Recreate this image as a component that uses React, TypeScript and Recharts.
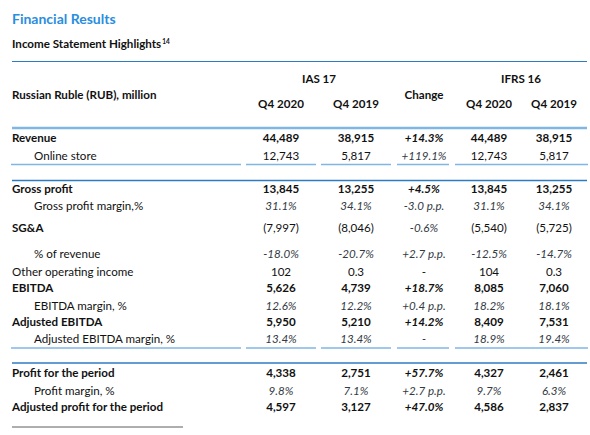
import React from 'react';
import { ComposedChart, XAxis, YAxis, Scatter, ReferenceLine } from 'recharts';

// ---- Data ----
const rowLabels = [
  'Revenue', 'Online store', 'Gross profit', 'Gross profit margin,%', 'SG&A', '% of revenue',
  'Other operating income', 'EBITDA', 'EBITDA margin, %', 'Adjusted EBITDA',
  'Adjusted EBITDA margin, %', 'Profit for the period', 'Profit margin, %', 'Adjusted profit for the period',
];
const ias2020 = ['44,489', '12,743', '13,845', '31.1%', '(7,997)', '-18.0%', '102', '5,626', '12.6%', '5,950', '13.4%', '4,338', '9.8%', '4,597'];
const ias2019 = ['38,915', '5,817', '13,255', '34.1%', '(8,046)', '-20.7%', '0.3', '4,739', '12.2%', '5,210', '13.4%', '2,751', '7.1%', '3,127'];
const changeCol = ['+14.3%', '+119.1%', '+4.5%', '-3.0 p.p.', '-0.6%', '+2.7 p.p.', '-', '+18.7%', '+0.4 p.p.', '+14.2%', '-', '+57.7%', '+2.7 p.p.', '+47.0%'];
const ifrs2020 = ['44,489', '12,743', '13,845', '31.1%', '(5,540)', '-12.5%', '104', '8,085', '18.2%', '8,409', '18.9%', '4,327', '9.7%', '4,586'];
const ifrs2019 = ['38,915', '5,817', '13,255', '34.1%', '(5,725)', '-14.7%', '0.3', '7,060', '18.1%', '7,531', '19.4%', '2,461', '6.3%', '2,837'];
const rowKinds = ['bold', 'sub', 'bold', 'pct', 'boldLabel', 'pct', 'plain', 'bold', 'pct', 'bold', 'pct', 'bold', 'pct', 'bold'];
const columnHeaders = ['Q4 2020', 'Q4 2019', 'Change', 'Q4 2020', 'Q4 2019'];
const groupHeaders = ['IAS 17', 'IFRS 16'];
const unitLabel = 'Russian Ruble (RUB), million';
const titleText = 'Financial Results';
const subtitleText = 'Income Statement Highlights';
const footnoteMark = '14';

// ---- Layout ----
const W = 590;
const H = 435;
const FONT = 'Lato, "Open Sans", sans-serif';
const colX = [281, 356, 424, 489, 554];
const rowY = [138, 156, 189, 206, 228, 254, 272, 288, 306, 322, 339, 373, 391, 407];
const labelX = 12;
const indentX = 34;
const DARK = '#111111';
const GREY = '#333a44';
const BLUE = '#2c7cc2';
const LIGHT = '#7fb6e6';
const FS = 11.6;

type Cell = { x: number; y: number; text: string; weight: number; italic: boolean; anchor: string; color: string; size: number; sup?: string };

const columns = [ias2020, ias2019, changeCol, ifrs2020, ifrs2019];

const cells: Cell[] = [];
rowLabels.forEach((label, r) => {
  const kind = rowKinds[r];
  const indented = kind === 'sub' || kind === 'pct';
  cells.push({
    x: indented ? indentX : labelX,
    y: rowY[r],
    text: label,
    weight: kind === 'bold' || kind === 'boldLabel' ? 700 : 400,
    italic: false,
    anchor: 'start',
    color: DARK,
    size: FS,
  });
  columns.forEach((col, c) => {
    const isChange = c === 2;
    const txt = col[r];
    const bold = kind === 'bold';
    const italic = kind === 'pct' || (isChange && txt !== '-');
    cells.push({
      x: colX[c],
      y: rowY[r],
      text: txt,
      weight: bold ? 700 : 400,
      italic,
      anchor: 'middle',
      color: italic && !bold ? GREY : DARK,
      size: FS,
    });
  });
});

// headers
cells.push({ x: 319, y: 79, text: groupHeaders[0], weight: 700, italic: false, anchor: 'middle', color: DARK, size: FS });
cells.push({ x: 521, y: 79, text: groupHeaders[1], weight: 700, italic: false, anchor: 'middle', color: DARK, size: FS });
cells.push({ x: labelX, y: 95, text: unitLabel, weight: 700, italic: false, anchor: 'start', color: DARK, size: FS });
columnHeaders.forEach((h, c) => {
  cells.push({ x: colX[c], y: c === 2 ? 95 : 104, text: h, weight: 700, italic: false, anchor: 'middle', color: DARK, size: FS });
});
cells.push({ x: labelX, y: 19, text: titleText, weight: 700, italic: false, anchor: 'start', color: '#2a8de0', size: 14 });
cells.push({ x: labelX, y: 44, text: subtitleText, weight: 700, italic: false, anchor: 'start', color: DARK, size: FS, sup: footnoteMark });

const renderCell = (props: any) => {
  const { cx, cy, payload } = props;
  if (cx == null || cy == null || !payload) return <g />;
  const p = payload as Cell;
  return (
    <text
      x={cx}
      y={cy}
      dy="0.36em"
      textAnchor={p.anchor as any}
      fontFamily={FONT}
      fontSize={p.size}
      fontWeight={p.weight}
      fontStyle={p.italic ? 'italic' : 'normal'}
      fill={p.color}
    >
      {p.text}
      {p.sup ? (
        <tspan fontSize={6.5} dy="-0.7em" dx="1">{p.sup}</tspan>
      ) : null}
    </text>
  );
};

type Seg = { x1: number; x2: number; y: number; color: string; width: number };
const rules: Seg[] = [
  { x1: 12, x2: 587, y: 61.5, color: BLUE, width: 1.2 },
  { x1: 12, x2: 587, y: 128, color: LIGHT, width: 2.5 },
  { x1: 12, x2: 587, y: 180.5, color: BLUE, width: 1.6 },
  { x1: 12, x2: 587, y: 363, color: BLUE, width: 1.6 },
  { x1: 12, x2: 183, y: 427, color: '#333333', width: 0.8 },
];
const segSpans = [[11, 241], [246, 316], [321, 391], [397, 449], [455, 588]];
[164.5, 348].forEach((y) => {
  segSpans.forEach(([a, b]) => rules.push({ x1: a, x2: b, y, color: LIGHT, width: 1.6 }));
});

export default function App() {
  return (
    <div style={{ position: 'absolute', left: 0, top: 0, width: W, height: H, background: '#fff' }}>
      <ComposedChart width={W} height={H} margin={{ top: 0, right: 0, bottom: 0, left: 0 }}>
        <XAxis type="number" dataKey="x" domain={[0, W]} hide allowDataOverflow />
        <YAxis type="number" dataKey="y" domain={[0, H]} reversed hide allowDataOverflow />
        {rules.map((s, i) => (
          <ReferenceLine
            key={i}
            segment={[{ x: s.x1, y: s.y }, { x: s.x2, y: s.y }]}
            stroke={s.color}
            strokeWidth={s.width}
            ifOverflow="visible"
          />
        ))}
        <Scatter data={cells} shape={renderCell} isAnimationActive={false} />
      </ComposedChart>
    </div>
  );
}
